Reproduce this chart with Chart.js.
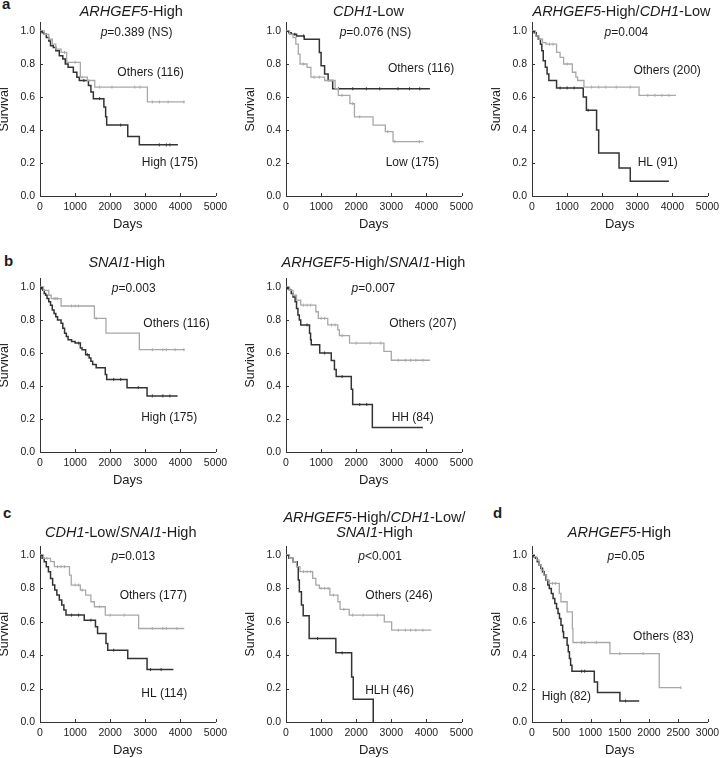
<!DOCTYPE html>
<html>
<head>
<meta charset="utf-8">
<script src="https://cdn.jsdelivr.net/npm/chart.js@4.4.1/dist/chart.umd.min.js"></script>
<style>
html,body{margin:0;padding:0;background:#fff;}
#fig{position:relative;width:722px;height:758px;overflow:hidden;background:#fff;}
#fig canvas{position:absolute;}
.lab{position:absolute;font:bold 15px "Liberation Sans",Arial,sans-serif;color:#1c1c1c;line-height:15px;}
</style>
</head>
<body>
<div id="fig">
  <div class="lab" style="left:2px;top:-4px">a</div>
  <div class="lab" style="left:4px;top:253px">b</div>
  <div class="lab" style="left:3px;top:505px">c</div>
  <div class="lab" style="left:493px;top:505px">d</div>
</div>
<script>
// ---------- tick labels ----------
const survivalTicks = [0, 0.2, 0.4, 0.6, 0.8, 1.0];
const daysTicks = [0, 1000, 2000, 3000, 4000, 5000];
const daysTicksD = [0, 500, 1000, 1500, 2000, 2500, 3000];

// ---------- Kaplan-Meier curves: [days, survival] ----------
// a1 ARHGEF5-High
const a1Others = [[0,1],[120,0.98],[250,0.95],[350,0.92],[450,0.89],[600,0.87],[760,0.81],[1150,0.72],[1350,0.70],[1560,0.66],[3060,0.57],[4120,0.57]];
const a1OthersCens = [700,1000,1200,1700,2050,2700,2850,3200,3400,3650,4100];
const a1High = [[0,1],[60,0.99],[120,0.98],[180,0.96],[250,0.94],[300,0.91],[380,0.90],[450,0.88],[550,0.85],[650,0.83],[720,0.80],[800,0.78],[950,0.75],[1050,0.72],[1120,0.70],[1380,0.67],[1450,0.63],[1520,0.59],[1820,0.54],[1870,0.48],[1900,0.43],[2500,0.36],[2830,0.31],[3930,0.31]];
const a1HighCens = [1250,1700,2300,3400,3600,3700];
// a2 CDH1-Low
const a2Others = [[0,1],[80,0.99],[150,0.98],[300,0.97],[520,0.95],[950,0.87],[1000,0.79],[1100,0.74],[1200,0.70],[1330,0.65],[4100,0.65]];
const a2OthersCens = [250,500,1500,1900,2290,2670,3190,3520,3810];
const a2Low = [[0,1],[100,0.98],[200,0.96],[280,0.92],[350,0.86],[400,0.80],[600,0.78],[710,0.72],[1100,0.70],[1400,0.65],[1490,0.61],[1820,0.56],[1950,0.48],[2480,0.43],[2830,0.39],[3050,0.33],[3920,0.33]];
const a2LowCens = [500,800,950,1600,1900,2100,2900,3100,3800];
// a3 ARHGEF5-High/CDH1-Low
const a3Others = [[0,1],[100,0.97],[200,0.95],[300,0.93],[400,0.92],[700,0.87],[800,0.84],[900,0.80],[1150,0.75],[1250,0.72],[1300,0.70],[1480,0.66],[3050,0.61],[4100,0.61]];
const a3OthersCens = [500,600,1000,1700,1900,2100,2400,2800,3300,3500,3700,3900];
const a3HL = [[0,1],[60,0.99],[120,0.97],[180,0.95],[240,0.92],[280,0.88],[320,0.82],[380,0.78],[430,0.74],[480,0.70],[700,0.655],[1460,0.60],[1550,0.52],[1840,0.40],[1900,0.26],[2480,0.17],[2800,0.09],[3900,0.09]];
const a3HLCens = [800,1000,1200,1600];
// b1 SNAI1-High
const b1Others = [[0,1],[100,0.98],[250,0.95],[320,0.93],[600,0.885],[1550,0.81],[1880,0.72],[2830,0.62],[4120,0.62]];
const b1OthersCens = [400,450,500,900,1000,1100,1600,3200,3500,3600,3850,4100];
const b1High = [[0,1],[40,0.99],[80,0.98],[120,0.96],[160,0.95],[200,0.93],[250,0.91],[300,0.89],[350,0.86],[400,0.84],[450,0.82],[500,0.80],[600,0.78],[650,0.75],[700,0.72],[750,0.70],[800,0.68],[900,0.67],[1000,0.66],[1150,0.63],[1200,0.62],[1300,0.59],[1400,0.57],[1450,0.55],[1500,0.53],[1600,0.51],[1860,0.47],[1900,0.44],[2480,0.39],[3050,0.34],[3920,0.34]];
const b1HighCens = [1100,1350,2100,2300,2800,3200,3500,3700];
// b2 ARHGEF5-High/SNAI1-High
const b2Others = [[0,1],[100,0.98],[200,0.95],[300,0.92],[420,0.89],[850,0.85],[920,0.81],[1190,0.77],[1476,0.74],[1520,0.705],[1810,0.66],[2790,0.61],[3000,0.556],[4100,0.556]];
const b2OthersCens = [500,600,700,1000,1100,1300,1400,1600,2000,2400,2700,3200,3400,3550,3700,3900];
const b2HH = [[0,1],[50,0.99],[100,0.98],[150,0.96],[200,0.94],[260,0.91],[300,0.87],[340,0.83],[380,0.80],[420,0.77],[670,0.72],[700,0.68],[720,0.65],[960,0.60],[1290,0.555],[1380,0.50],[1430,0.457],[1860,0.38],[1900,0.288],[2460,0.149],[3900,0.149]];
const b2HHCens = [600,1100,1600,2100,2300];
// c1 CDH1-Low/SNAI1-High
const c1Others = [[0,1],[100,0.98],[300,0.96],[410,0.93],[840,0.88],[890,0.82],[1150,0.79],[1300,0.76],[1450,0.72],[1550,0.69],[1860,0.64],[2810,0.56],[4110,0.56]];
const c1OthersCens = [200,500,600,700,1000,1100,1200,1700,2000,2400,3200,3500,3600,3900];
const c1HL = [[0,1],[60,0.98],[120,0.96],[180,0.93],[240,0.90],[300,0.86],[360,0.82],[420,0.79],[480,0.76],[550,0.73],[620,0.70],[680,0.67],[740,0.64],[1260,0.61],[1580,0.57],[1640,0.53],[1880,0.47],[1930,0.43],[2500,0.38],[3050,0.314],[3800,0.314]];
const c1HLCens = [900,1100,1450,2100,3150,3450];
// c2 ARHGEF5-High/CDH1-Low/SNAI1-High
const c2Others = [[0,1],[100,0.98],[200,0.96],[300,0.93],[400,0.90],[760,0.86],[850,0.82],[950,0.80],[1250,0.76],[1480,0.72],[1540,0.675],[1800,0.64],[2800,0.60],[3010,0.55],[4140,0.55]];
const c2OthersCens = [500,600,700,1000,1100,1200,1350,1650,1900,2200,2600,3200,3400,3550,3700,3900];
const c2HLH = [[0,1],[80,0.98],[200,0.96],[320,0.93],[350,0.85],[380,0.78],[440,0.70],[490,0.636],[660,0.50],[1420,0.414],[1870,0.27],[1916,0.136],[2485,0]];
const c2HLHCens = [900,1600];
// d ARHGEF5-High (second cohort)
const dOthers = [[0,1],[40,0.99],[80,0.97],[120,0.94],[160,0.91],[200,0.88],[250,0.85],[296,0.83],[467,0.77],[495,0.72],[600,0.66],[690,0.56],[700,0.476],[1332,0.41],[2175,0.206],[2545,0.206]];
const dOthersCens = [350,400,850,900,1100,1500,1900,2545];
const dHigh = [[0,1],[30,0.99],[60,0.98],[90,0.96],[120,0.94],[150,0.92],[180,0.90],[210,0.88],[240,0.85],[270,0.82],[296,0.80],[330,0.77],[360,0.74],[390,0.71],[420,0.68],[445,0.65],[470,0.62],[495,0.58],[524,0.54],[540,0.504],[600,0.46],[620,0.42],[640,0.38],[660,0.34],[683,0.304],[1065,0.24],[1120,0.176],[1503,0.126],[1833,0.126]];
const dHighCens = [850,900,1600];

// ---------- texts (italic flag per segment) ----------
const tA1 = [['ARHGEF5',true],['-High',false]];
const tA2 = [['CDH1',true],['-Low',false]];
const tA3 = [['ARHGEF5',true],['-High/',false],['CDH1',true],['-Low',false]];
const tB1 = [['SNAI1',true],['-High',false]];
const tB2 = [['ARHGEF5',true],['-High/',false],['SNAI1',true],['-High',false]];
const tC1 = [['CDH1',true],['-Low/',false],['SNAI1',true],['-High',false]];
const tC2a = [['ARHGEF5',true],['-High/',false],['CDH1',true],['-Low/',false]];
const tC2b = [['SNAI1',true],['-High',false]];
const tD = [['ARHGEF5',true],['-High',false]];
const pVals = ['=0.389 (NS)','=0.076 (NS)','=0.004','=0.003','=0.007','=0.013','<0.001','=0.05'];

// ---------- style / layout ----------
const FONT = '"Liberation Sans", Arial, Helvetica, sans-serif';
const DARK = '#333333', LIGHT = '#a8a8a8', TEXT = '#1c1c1c';
const colX = [40, 286, 532];
const rowY = [196, 452, 722];
const rowH = [165, 165, 167];
const PLOT_W = 175.5, Y_W = 45, X_H = 40, TOP_SPACE = 48, YMAX = 1.05;

function stepAt(curve, t) {
  let v = curve[0][1];
  for (const [x, y] of curve) { if (x <= t) v = y; else break; }
  return v;
}
const seg = (s) => [[s, false]];
const pSeg = (i) => [['p', true], [pVals[i], false]];

const panels = [
  {col:0,row:0,xMax:5000,xTicks:daysTicks,light:a1Others,lightC:a1OthersCens,dark:a1High,darkC:a1HighCens,
   texts:[{s:tA1,x:2600,y:1.115,f:14.5},{s:pSeg(0),x:2750,y:0.99,f:12},{s:seg('Others (116)'),x:3150,y:0.75,f:12},{s:seg('High (175)'),x:3700,y:0.2,f:12}]},
  {col:1,row:0,xMax:5000,xTicks:daysTicks,light:a2Low,lightC:a2LowCens,dark:a2Others,darkC:a2OthersCens,
   texts:[{s:tA2,x:2350,y:1.115,f:14.5},{s:pSeg(1),x:2550,y:0.99,f:12},{s:seg('Others (116)'),x:3850,y:0.77,f:12},{s:seg('Low (175)'),x:3600,y:0.2,f:12}]},
  {col:2,row:0,xMax:5000,xTicks:daysTicks,light:a3Others,lightC:a3OthersCens,dark:a3HL,darkC:a3HLCens,
   texts:[{s:tA3,x:2550,y:1.115,f:14.5},{s:pSeg(2),x:2690,y:0.99,f:12},{s:seg('Others (200)'),x:3850,y:0.76,f:12},{s:seg('HL (91)'),x:3580,y:0.2,f:12}]},
  {col:0,row:1,xMax:5000,xTicks:daysTicks,light:b1Others,lightC:b1OthersCens,dark:b1High,darkC:b1HighCens,
   texts:[{s:tB1,x:2470,y:1.145,f:14.5},{s:pSeg(3),x:2670,y:0.99,f:12},{s:seg('Others (116)'),x:3890,y:0.78,f:12},{s:seg('High (175)'),x:3680,y:0.21,f:12}]},
  {col:1,row:1,xMax:5000,xTicks:daysTicks,light:b2Others,lightC:b2OthersCens,dark:b2HH,darkC:b2HHCens,
   texts:[{s:tB2,x:2490,y:1.145,f:14.5},{s:pSeg(4),x:2490,y:0.99,f:12},{s:seg('Others (207)'),x:3900,y:0.776,f:12},{s:seg('HH (84)'),x:3610,y:0.206,f:12}]},
  {col:0,row:2,xMax:5000,xTicks:daysTicks,light:c1Others,lightC:c1OthersCens,dark:c1HL,darkC:c1HLCens,
   texts:[{s:tC1,x:2300,y:1.13,f:14.5},{s:pSeg(5),x:2660,y:0.99,f:12},{s:seg('Others (177)'),x:3230,y:0.755,f:12},{s:seg('HL (114)'),x:3540,y:0.17,f:12}]},
  {col:1,row:2,xMax:5000,xTicks:daysTicks,light:c2Others,lightC:c2OthersCens,dark:c2HLH,darkC:c2HLHCens,
   texts:[{s:tC2a,x:2520,y:1.22,f:14.5},{s:tC2b,x:2520,y:1.13,f:14.5},{s:pSeg(6),x:2680,y:0.99,f:12},{s:seg('Others (246)'),x:3220,y:0.755,f:12},{s:seg('HLH (46)'),x:2950,y:0.19,f:12}]},
  {col:2,row:2,xMax:3000,xTicks:daysTicksD,light:dOthers,lightC:dOthersCens,dark:dHigh,darkC:dHighCens,
   texts:[{s:tD,x:1494,y:1.13,f:14.5},{s:pSeg(7),x:1608,y:0.99,f:12},{s:seg('Others (83)'),x:2247,y:0.51,f:12},{s:seg('High (82)'),x:587,y:0.15,f:12}]}
];

function drawRich(ctx, segs, cx, cy, size) {
  let total = 0;
  const ws = segs.map(([t, it]) => {
    ctx.font = (it ? 'italic ' : '') + size + 'px ' + FONT;
    const w = ctx.measureText(t).width; total += w; return w;
  });
  let x = cx - total / 2;
  ctx.textAlign = 'left'; ctx.textBaseline = 'middle';
  segs.forEach(([t, it], i) => {
    ctx.font = (it ? 'italic ' : '') + size + 'px ' + FONT;
    ctx.fillText(t, x, cy); x += ws[i];
  });
}

function makeAnnot(p) {
  return {
    id: 'annot',
    afterDraw(chart) {
      const { ctx, scales: { x, y } } = chart;
      ctx.save();
      ctx.strokeStyle = DARK; ctx.lineWidth = 1;
      ctx.beginPath();
      p.xTicks.forEach(v => {
        const px = Math.round(x.getPixelForValue(v)) + 0.5;
        ctx.moveTo(px, y.bottom); ctx.lineTo(px, y.bottom - 3);
      });
      survivalTicks.forEach(v => {
        const py = Math.round(y.getPixelForValue(v)) + 0.5;
        ctx.moveTo(x.left, py); ctx.lineTo(x.left + 3, py);
      });
      ctx.stroke();
      ctx.fillStyle = TEXT;
      p.texts.forEach(t => drawRich(ctx, t.s, x.getPixelForValue(t.x), y.getPixelForValue(t.y), t.f));
      ctx.textAlign = 'center'; ctx.textBaseline = 'middle';
      ctx.font = '13px ' + FONT;
      ctx.fillText('Days', (x.left + x.right) / 2, y.bottom + 28);
      ctx.translate(x.left - 35, (y.top + y.bottom) / 2);
      ctx.rotate(-Math.PI / 2);
      ctx.font = '12.5px ' + FONT;
      ctx.fillText('Survival', 0, 0);
      ctx.restore();
    }
  };
}

const fig = document.getElementById('fig');
panels.forEach(p => {
  const ax = colX[p.col], ay = rowY[p.row], H = rowH[p.row];
  const areaTop = ay - YMAX * H;
  const top = Math.floor(areaTop - TOP_SPACE);
  const left = ax - Y_W;
  const width = Math.ceil(Y_W + PLOT_W + 24);
  const height = Math.ceil(ay - top + X_H);
  const cv = document.createElement('canvas');
  cv.width = width; cv.height = height;
  cv.style.left = left + 'px'; cv.style.top = top + 'px';
  cv.style.width = width + 'px'; cv.style.height = height + 'px';
  fig.appendChild(cv);

  const toXY = c => c.map(([x, y]) => ({ x, y }));
  const cens = (curve, ts) => ts.map(t => ({ x: t, y: stepAt(curve, t) }));
  const lineDs = (curve, col, bw) => ({ data: toXY(curve), stepped: 'before', borderColor: col, borderWidth: bw, pointRadius: 0, fill: false, tension: 0 });
  const censDs = (curve, ts, col) => ({ data: cens(curve, ts), showLine: false, pointStyle: 'line', rotation: 90, pointRadius: 1.5, borderColor: col, backgroundColor: col, borderWidth: 1 });

  new Chart(cv, {
    type: 'line',
    data: {
      datasets: [
        lineDs(p.light, LIGHT, 1.3),
        censDs(p.light, p.lightC, LIGHT),
        lineDs(p.dark, DARK, 1.5),
        censDs(p.dark, p.darkC, DARK)
      ]
    },
    options: {
      responsive: false, animation: false, devicePixelRatio: 1,
      layout: { padding: { left: 0, top: areaTop - top, right: width - Y_W - PLOT_W, bottom: height - (ay - top) - X_H } },
      plugins: { legend: { display: false }, tooltip: { enabled: false }, title: { display: false } },
      scales: {
        x: {
          type: 'linear', min: 0, max: p.xMax,
          afterFit: s => { s.height = X_H; },
          afterBuildTicks: s => { s.ticks = p.xTicks.map(v => ({ value: v })); },
          grid: { display: false, drawTicks: false },
          border: { display: true, color: DARK, width: 1 },
          ticks: { autoSkip: false, maxRotation: 0, padding: 5, color: '#222', font: { family: FONT, size: 10.5 }, callback: v => String(v) }
        },
        y: {
          type: 'linear', min: 0, max: YMAX,
          afterFit: s => { s.width = Y_W; },
          afterBuildTicks: s => { s.ticks = survivalTicks.map(v => ({ value: v })); },
          grid: { display: false, drawTicks: false },
          border: { display: true, color: DARK, width: 1 },
          ticks: { autoSkip: false, padding: 5, color: '#222', font: { family: FONT, size: 10.5 }, callback: v => v.toFixed(1) }
        }
      }
    },
    plugins: [makeAnnot(p)]
  });
});
</script>
</body>
</html>
